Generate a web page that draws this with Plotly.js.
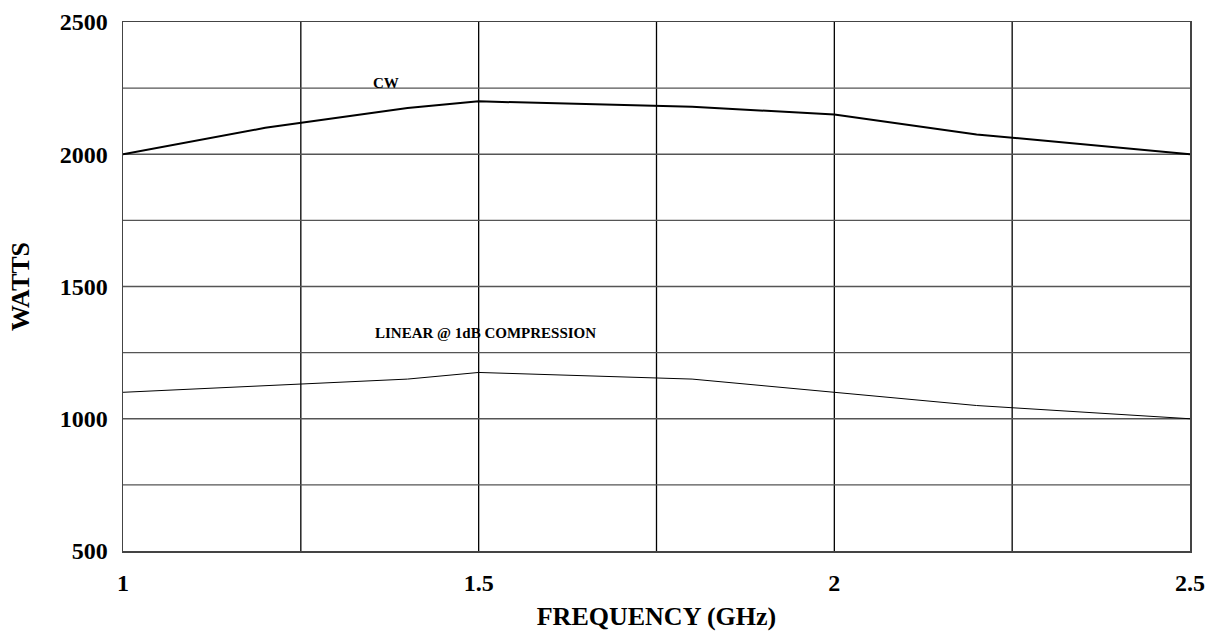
<!DOCTYPE html>
<html>
<head>
<meta charset="utf-8">
<script src="https://cdn.plot.ly/plotly-3.0.1.min.js"></script>
<style>html,body{margin:0;padding:0;background:#fff;}#chart{width:1208px;height:633px;}</style>
</head>
<body>
<div id="chart"></div>
<script>
const freqCW = [1.0, 1.2, 1.4, 1.5, 1.8, 2.0, 2.2, 2.5];
const wattsCW = [2000, 2100, 2175, 2200, 2180, 2150, 2075, 2000];
const freqLin = [1.0, 1.2, 1.4, 1.5, 1.8, 2.0, 2.2, 2.5];
const wattsLin = [1100, 1125, 1150, 1175, 1150, 1100, 1050, 1000];
const xTicks = [1, 1.5, 2, 2.5];
const xTickText = ['1', '1.5', '2', '2.5'];
const yTicks = [500, 1000, 1500, 2000, 2500];
const yTickText = ['500', '1000', '1500', '2000', '2500'];

const font = 'Liberation Serif, Times New Roman, serif';

const traces = [
  {x: freqCW, y: wattsCW, mode: 'lines', line: {color: '#000', width: 2}, hoverinfo: 'none'},
  {x: freqLin, y: wattsLin, mode: 'lines', line: {color: '#000', width: 1}, hoverinfo: 'none'}
];

const shapes = [];
[1.25, 1.5, 1.75, 2.0, 2.25].forEach(v => shapes.push({type: 'line', xref: 'x', yref: 'paper', x0: v, x1: v, y0: 0, y1: 1, line: {color: '#000', width: 1.3}, layer: 'below'}));
[750, 1000, 1250, 1500, 1750, 2000, 2250].forEach(v => shapes.push({type: 'line', xref: 'paper', yref: 'y', x0: 0, x1: 1, y0: v, y1: v, line: {color: '#555', width: 1.3}, layer: 'below'}));

const layout = {
  width: 1208, height: 633,
  margin: {l: 123, r: 18, t: 22, b: 82},
  paper_bgcolor: '#fff', plot_bgcolor: '#fff',
  showlegend: false,
  font: {family: font, color: '#000'},
  xaxis: {
    range: [1, 2.5], tickvals: xTicks, ticktext: xTickText,
    showgrid: false, zeroline: false,
    showline: true, mirror: true, linecolor: '#444', linewidth: 1.5,
    ticks: '', ticklabelstandoff: 10,
    tickfont: {family: font, size: 24, color: '#000', weight: 'bold'},
    title: {text: '<b>FREQUENCY (GHz)</b>', font: {family: font, size: 26, color: '#000'}, standoff: 11}
  },
  yaxis: {
    range: [500, 2500], tickvals: yTicks, ticktext: yTickText,
    showgrid: false, zeroline: false,
    showline: true, mirror: true, linecolor: '#444', linewidth: 1.5,
    ticks: '', ticklabelstandoff: 9,
    tickfont: {family: font, size: 24, color: '#000', weight: 'bold'},
    title: {text: '<b>WATTS</b>', font: {family: font, size: 26, color: '#000'}, standoff: 22}
  },
  shapes: shapes,
  annotations: [
    {x: 1.37, y: 2269, xref: 'x', yref: 'y', text: '<b>CW</b>', showarrow: false, font: {family: font, size: 15, color: '#000'}},
    {x: 1.51, y: 1324, xref: 'x', yref: 'y', text: '<b>LINEAR @ 1dB COMPRESSION</b>', showarrow: false, font: {family: font, size: 15, color: '#000'}}
  ]
};

Plotly.newPlot('chart', traces, layout, {staticPlot: true, displayModeBar: false});
</script>
</body>
</html>
